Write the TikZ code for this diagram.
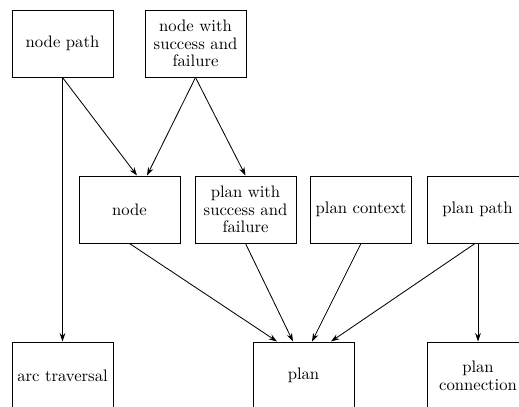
\documentclass[tikz,border=0pt]{standalone}
\usetikzlibrary{arrows.meta,calc}
\begin{document}
\begin{tikzpicture}[x=0.6pt,y=-0.6pt,
  box/.style={draw,line width=0.6pt,minimum width=60.6pt,minimum height=40.2pt,inner sep=1pt,align=center,font=\fontsize{10}{10.6}\selectfont},
  conn/.style={line width=0.5pt,-{Stealth[length=5pt,width=3.4pt]}}]
\path[use as bounding box] (0,0) rectangle (519,407);
\clip (0,0) rectangle (519,407);
\node[box] (np) at (62.5,43.5) {node path};
\node[box] (nsf) at (195.5,43.5) {node with\\success and\\failure};
\node[box] (nd) at (129.5,209.5) {node};
\node[box] (psf) at (245.5,209.5) {plan with\\success and\\failure};
\node[box] (pc) at (361,209.5) {plan context};
\node[box] (pp) at (477.5,209.5) {plan path};
\node[box] (arc) at (62.5,375.5) {arc traversal};
\node[box] (pl) at (303.5,375.5) {plan};
\node[box] (pcn) at (478,375.5) {plan\\connection};
\draw[conn] (np.south) -- ($(nd.north)+(7.5,0)$);
\draw[conn] (nsf.south) -- ($(nd.north)+(17.5,0)$);
\draw[conn] (nsf.south) -- (psf.north);
\draw[conn] (np.south) -- (arc.north);
\draw[conn] (nd.south) -- ($(pl.north)+(-26.5,0)$);
\draw[conn] (psf.south) -- ($(pl.north)+(-10.5,0)$);
\draw[conn] (pc.south) -- ($(pl.north)+(8.5,0)$);
\draw[conn] ($(pp.south)+(-2.5,0)$) -- ($(pl.north)+(27.5,0)$);
\draw[conn] ($(pp.south)+(0.5,0)$) -- (pcn.north);
\end{tikzpicture}
\end{document}
